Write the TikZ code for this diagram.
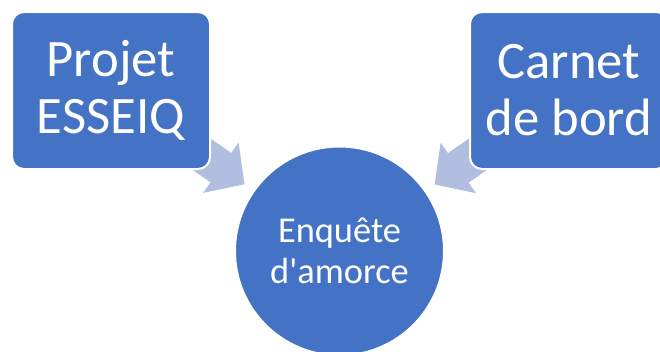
\documentclass[tikz,border=0pt]{standalone}
\usepackage{fontspec}
\setmainfont{Carlito}
\usetikzlibrary{arrows.meta,backgrounds}
\definecolor{boxblue}{HTML}{4472C4}
\definecolor{arrowblue}{HTML}{B1BEE0}

\begin{document}
\begin{tikzpicture}[
                      x = 0.75pt,
                      y = -0.75pt,
      sourcebox/.style = {draw=white, line width=1.5pt, fill=boxblue,
                          rounded corners=9pt, text=white, align=center,
                          minimum width=148.5pt, minimum height=117.75pt,
                          inner sep=0pt,
                          font=\fontsize{39.5}{42.75}\selectfont},
      goalcircle/.style = {circle, draw=white, line width=1.5pt, fill=boxblue,
                          text=white, align=center, minimum size=156.75pt,
                          inner sep=0pt,
                          font=\fontsize{27.3}{30.75}\selectfont},
     blockarrow/.style = {draw=arrowblue, line width=27pt,
                          -{Triangle[length=21.75pt, width=45pt]},
                          shorten >=87pt},
                     ]
\useasboundingbox (0,0) rectangle (660,351);
\node[sourcebox]  (projet) at (111,90.5)  {Projet\\ESSEIQ};
\node[sourcebox]  (carnet) at (569,90.5)  {Carnet\\de bord};
\node[goalcircle] (enquete) at (339.5,251) {Enquête\\d\textquotesingle amorce};
% arrows behind the boxes
\begin{scope}[on background layer]
    \draw[blockarrow] (projet.center) -- (enquete.center);
    \draw[blockarrow] (carnet.center) -- (enquete.center);
\end{scope}
\end{tikzpicture}
\end{document}
